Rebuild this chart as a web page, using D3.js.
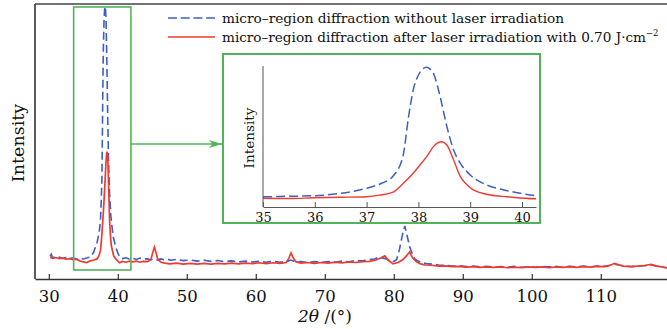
<!DOCTYPE html>
<html>
<head>
<meta charset="utf-8">
<script src="https://cdn.jsdelivr.net/npm/d3@7"></script>
<style>
  body { margin: 0; background: #fff; }
  svg { display: block; }
  text { font-family: "DejaVu Serif", serif; fill: #111; }
</style>
</head>
<body>
<div id="chart"></div>
<script>
var width = 667
var height = 329
var blueColor = "#3b60c2"
var redColor = "#ef3a31"
var greenColor = "#52b35b"

// tick values
var mainTicks = [30, 40, 50, 60, 70, 80, 90, 100, 110]
var insetTicks = [35, 36, 37, 38, 39, 40]

var legendLabels = [
  "micro\u2013region diffraction without laser irradiation",
  "micro\u2013region diffraction after laser irradiation with 0.70 J\u00b7cm"
]

// 2theta window marked by the green box
var zoomWindow = [33.6, 41.9]

// [2theta, intensity (a.u.)]
var blueScan = [
  [30.2, 8.2], [30.35, 9.0], [30.5, 8.0], [31, 7.7], [31.5, 8.0], [32, 7.5], [32.5, 7.8], [33, 7.4],
  [33.5, 7.7], [34, 7.2], [34.5, 7.5], [35, 7.3], [35.5, 7.6], [36, 8.0], [36.5, 9.7], [37, 13.3],
  [37.3, 17.0], [37.5, 21.5], [37.7, 35.7], [37.81, 64.0], [37.9, 83.0], [38.0, 93.6], [38.08, 97.8],
  [38.15, 99.1], [38.22, 98.0], [38.29, 94.8], [38.42, 78.2], [38.55, 57.0], [38.68, 40.4],
  [38.81, 31.0], [39.0, 22.7], [39.32, 15.6], [39.65, 12.1], [39.97, 9.7], [40.26, 8.0],
  [40.7, 7.4], [41.2, 7.7], [41.7, 7.2], [42.2, 7.5], [42.7, 7.1], [43.2, 7.6], [43.7, 7.2],
  [44.2, 7.4], [44.7, 7.0], [45.2, 7.3], [45.7, 6.9], [46.2, 7.3], [46.7, 7.0], [47.2, 7.2],
  [47.7, 6.8], [48.5, 7.1], [49.5, 6.7], [50.5, 6.9], [51.5, 6.5], [52.5, 6.8], [53.5, 6.4],
  [54.5, 6.7], [55.5, 6.3], [56.5, 6.6], [57.5, 6.2], [58.5, 6.5], [59.5, 6.2], [60.5, 6.4],
  [61.5, 6.1], [62.5, 6.4], [63.5, 6.1], [64.5, 6.4], [65.1, 6.9], [65.7, 6.2], [66.5, 6.3],
  [67.5, 6.0], [68.5, 6.3], [69.5, 6.0], [70.5, 6.3], [71.5, 6.1], [72.5, 6.5], [73.5, 6.3],
  [74.5, 6.7], [75.5, 6.6], [76.5, 7.1], [77.2, 7.3], [77.8, 7.9], [78.4, 7.6], [79.0, 7.3],
  [79.6, 6.6], [80.0, 6.4], [80.4, 7.0], [80.8, 10.5], [81.2, 15.5], [81.6, 19.3], [82.0, 15.0],
  [82.3, 11.7], [82.7, 9.0], [83.0, 7.4], [83.5, 6.5], [84.0, 6.1], [84.7, 5.6], [85.5, 5.4],
  [86.5, 5.1], [87.5, 5.0], [88.5, 4.7], [89.5, 4.8], [90.5, 4.5], [91.5, 4.7], [92.5, 4.4],
  [93.5, 4.6], [94.5, 4.3], [95.5, 4.5], [96.5, 4.3], [97.5, 4.6], [98.5, 4.3], [99.5, 4.5],
  [100.5, 4.3], [101.5, 4.6], [102.5, 4.4], [103.5, 4.6], [104.5, 4.3], [105.5, 4.6], [106.5, 4.4],
  [107.5, 4.7], [108.5, 4.4], [109.5, 4.7], [110.5, 4.6], [111.3, 5.0], [112.0, 5.4], [112.7, 5.0],
  [113.5, 4.7], [114.5, 4.5], [115.5, 4.7], [116.5, 4.8], [117.3, 5.1], [118.0, 4.7], [118.8, 4.4],
  [119.6, 4.1]
]

var redScan = [
  [30.2, 7.9], [30.6, 7.5], [31, 7.8], [31.5, 7.4], [32, 7.6], [32.5, 7.2], [33, 7.4], [33.5, 7.0],
  [34, 7.2], [34.5, 6.6], [35, 6.2], [35.5, 6.0], [36, 6.6], [36.5, 6.9], [37, 7.3], [37.25, 8.4],
  [37.5, 10.4], [37.71, 16.8], [37.9, 23.9], [38.03, 29.8], [38.16, 35.7], [38.29, 42.8], [38.38, 45.6],
  [38.45, 46.3], [38.55, 44.0], [38.68, 33.3], [38.81, 21.5], [38.94, 15.6], [39.06, 12.1],
  [39.39, 8.5], [39.71, 7.3], [40.26, 5.9], [40.7, 6.4], [41.2, 6.1], [41.7, 6.5], [42.2, 6.2],
  [42.7, 6.5], [43.2, 6.1], [43.7, 6.4], [44.3, 6.3], [44.8, 7.0], [45.05, 9.5], [45.3, 11.6],
  [45.55, 9.5], [45.8, 7.0], [46.3, 6.1], [46.8, 5.8], [47.5, 5.5], [48.5, 5.8], [49.5, 5.4],
  [50.5, 5.7], [51.5, 5.4], [52.5, 5.7], [53.5, 5.4], [54.5, 5.7], [55.5, 5.5], [56.5, 5.8],
  [57.5, 5.5], [58.5, 5.8], [59.5, 5.6], [60.5, 5.9], [61.5, 5.6], [62.5, 5.9], [63.5, 5.7],
  [64.4, 6.0], [64.8, 7.6], [65.1, 9.5], [65.4, 7.8], [65.8, 6.3], [66.5, 5.8], [67.5, 6.0],
  [68.5, 5.7], [69.5, 6.0], [70.5, 5.8], [71.5, 6.1], [72.5, 5.9], [73.5, 6.2], [74.5, 6.0],
  [75.5, 6.3], [76.5, 6.4], [77.4, 6.9], [78.1, 7.6], [78.7, 8.4], [79.2, 6.8], [79.9, 5.5],
  [80.6, 6.0], [81.3, 7.0], [81.8, 8.3], [82.3, 9.9], [82.7, 7.8], [83.2, 6.4], [83.8, 5.6],
  [84.5, 5.1], [85.5, 5.0], [86.5, 4.7], [87.5, 4.8], [88.5, 4.5], [89.5, 4.6], [90.5, 4.3],
  [91.5, 4.5], [92.5, 4.2], [93.5, 4.4], [94.5, 4.2], [95.5, 4.4], [96.5, 4.1], [97.5, 4.3],
  [98.5, 4.1], [99.5, 4.4], [100.5, 4.2], [101.5, 4.4], [102.5, 4.1], [103.5, 4.4], [104.5, 4.2],
  [105.5, 4.5], [106.5, 4.2], [107.5, 4.5], [108.5, 4.3], [109.5, 4.6], [110.5, 4.5], [111.3, 4.9],
  [112.0, 5.7], [112.6, 5.2], [113.3, 4.7], [114.3, 4.5], [115.3, 4.7], [116.3, 4.9], [117.3, 5.3],
  [118.0, 4.8], [118.8, 4.4], [119.6, 4.0]
]

var svg = d3.select("#chart").append("svg")
  .attr("width", width)
  .attr("height", height)

var defs = svg.append("defs")

// main panel
var x = d3.scaleLinear().domain([28, 119.6]).range([35, 667])
var y = d3.scaleLinear().domain([0, 100]).range([279, 4])

defs.append("clipPath").attr("id", "mainClip")
  .append("rect")
  .attr("x", x.range()[0]).attr("y", y.range()[1])
  .attr("width", x.range()[1] - x.range()[0])
  .attr("height", y.range()[0] - y.range()[1])

var mainLine = d3.line()
  .x(function(d) { return x(d[0]); })
  .y(function(d) { return y(d[1]); })

var curves = svg.append("g").attr("clip-path", "url(#mainClip)")

curves.append("path")
  .datum(blueScan)
  .attr("d", mainLine)
  .attr("fill", "none")
  .attr("stroke", blueColor)
  .attr("stroke-width", 1.6)
  .attr("stroke-dasharray", "8,4")

curves.append("path")
  .datum(redScan)
  .attr("d", mainLine)
  .attr("fill", "none")
  .attr("stroke", redColor)
  .attr("stroke-width", 1.7)

var xAxis = svg.append("g")
  .attr("transform", "translate(0," + y(0) + ")")
  .call(d3.axisBottom(x)
    .tickValues(mainTicks)
    .tickFormat(d3.format("d"))
    .tickSizeInner(-5)
    .tickSizeOuter(0)
    .tickPadding(11))

xAxis.select(".domain").attr("stroke", "#333").attr("stroke-width", 1.6)
xAxis.selectAll(".tick line").attr("stroke", "#333").attr("stroke-width", 1.2)
xAxis.selectAll(".tick text")
  .style("font-family", "'DejaVu Serif', serif")
  .style("font-size", "16.5px")
  .attr("fill", "#111")

// left and top frame lines
svg.append("line")
  .attr("x1", x.range()[0]).attr("x2", x.range()[0])
  .attr("y1", y.range()[1]).attr("y2", y.range()[0])
  .attr("stroke", "#333").attr("stroke-width", 1.6)
svg.append("line")
  .attr("x1", x.range()[0]).attr("x2", x.range()[1])
  .attr("y1", y.range()[1]).attr("y2", y.range()[1])
  .attr("stroke", "#444").attr("stroke-width", 1.6)

var xTitle = svg.append("text")
  .attr("x", 325)
  .attr("y", 322)
  .attr("text-anchor", "middle")
  .style("font-size", "17px")
xTitle.append("tspan").style("font-style", "italic").text("2\u03b8")
xTitle.append("tspan").text(" /(\u00b0)")

svg.append("text")
  .attr("transform", "translate(24,143) rotate(-90)")
  .attr("text-anchor", "middle")
  .style("font-size", "17.5px")
  .text("Intensity")

// green box around the zoomed window
svg.append("rect")
  .attr("x", x(zoomWindow[0]))
  .attr("y", 7)
  .attr("width", x(zoomWindow[1]) - x(zoomWindow[0]))
  .attr("height", 263)
  .attr("fill", "none")
  .attr("stroke", greenColor)
  .attr("stroke-width", 1.6)

defs.append("marker")
  .attr("id", "arrowHead")
  .attr("markerUnits", "userSpaceOnUse")
  .attr("markerWidth", 14).attr("markerHeight", 10)
  .attr("refX", 13).attr("refY", 5)
  .attr("orient", "auto")
  .append("path")
  .attr("d", "M0,1 L13,5 L0,9 L3.5,5 Z")
  .attr("fill", greenColor)

svg.append("line")
  .attr("x1", x(zoomWindow[1])).attr("x2", 222)
  .attr("y1", 144).attr("y2", 144)
  .attr("stroke", greenColor)
  .attr("stroke-width", 1.6)
  .attr("marker-end", "url(#arrowHead)")

// inset
svg.append("rect")
  .attr("x", 223).attr("y", 54)
  .attr("width", 317).attr("height", 169)
  .attr("fill", "#fff")
  .attr("stroke", greenColor)
  .attr("stroke-width", 2)

var ix = d3.scaleLinear().domain([35, 40.27]).range([263, 536])
var iy = d3.scaleLinear().domain([0, 100]).range([207, 66])

defs.append("clipPath").attr("id", "insetClip")
  .append("rect")
  .attr("x", ix.range()[0]).attr("y", iy.range()[1])
  .attr("width", ix.range()[1] - ix.range()[0])
  .attr("height", iy.range()[0] - iy.range()[1])

var insetLine = d3.line()
  .curve(d3.curveMonotoneX)
  .x(function(d) { return ix(d[0]); })
  .y(function(d) { return iy(d[1]); })

var insetCurves = svg.append("g").attr("clip-path", "url(#insetClip)")

insetCurves.append("path")
  .datum(blueScan.filter(function(d) { return d[0] >= 34.5 && d[0] <= 40.8; }))
  .attr("d", insetLine)
  .attr("fill", "none")
  .attr("stroke", blueColor)
  .attr("stroke-width", 1.5)
  .attr("stroke-dasharray", "9,4")

insetCurves.append("path")
  .datum(redScan.filter(function(d) { return d[0] >= 34.5 && d[0] <= 40.8; }))
  .attr("d", insetLine)
  .attr("fill", "none")
  .attr("stroke", redColor)
  .attr("stroke-width", 1.4)

var insetAxis = svg.append("g")
  .attr("transform", "translate(0," + iy(0) + ")")
  .call(d3.axisBottom(ix)
    .tickValues(insetTicks)
    .tickFormat(d3.format("d"))
    .tickSizeInner(-5)
    .tickSizeOuter(0)
    .tickPadding(6))

insetAxis.select(".domain").attr("stroke", "#555").attr("stroke-width", 1)
insetAxis.selectAll(".tick line").attr("stroke", "#555")
insetAxis.selectAll(".tick text")
  .style("font-family", "'DejaVu Serif', serif")
  .style("font-size", "13px")
  .attr("fill", "#111")

svg.append("line")
  .attr("x1", ix.range()[0]).attr("x2", ix.range()[0])
  .attr("y1", iy.range()[1]).attr("y2", iy.range()[0])
  .attr("stroke", "#555").attr("stroke-width", 1)

svg.append("text")
  .attr("transform", "translate(254,138) rotate(-90)")
  .attr("text-anchor", "middle")
  .style("font-size", "13.6px")
  .text("Intensity")

// legend
var legend = svg.append("g")

legend.append("line")
  .attr("x1", 168).attr("x2", 215)
  .attr("y1", 18).attr("y2", 18)
  .attr("stroke", blueColor)
  .attr("stroke-width", 1.6)
  .attr("stroke-dasharray", "9,3.7")

legend.append("line")
  .attr("x1", 168).attr("x2", 215)
  .attr("y1", 37).attr("y2", 37)
  .attr("stroke", redColor)
  .attr("stroke-width", 1.6)

legend.append("text")
  .attr("x", 222).attr("y", 23)
  .style("font-size", "13.7px")
  .text(legendLabels[0])

var lab2 = legend.append("text")
  .attr("x", 222).attr("y", 42)
  .style("font-size", "13.6px")
lab2.append("tspan").text(legendLabels[1])
lab2.append("tspan")
  .attr("dy", -6)
  .style("font-size", "8.5px")
  .text("\u22122")
</script>
</body>
</html>
